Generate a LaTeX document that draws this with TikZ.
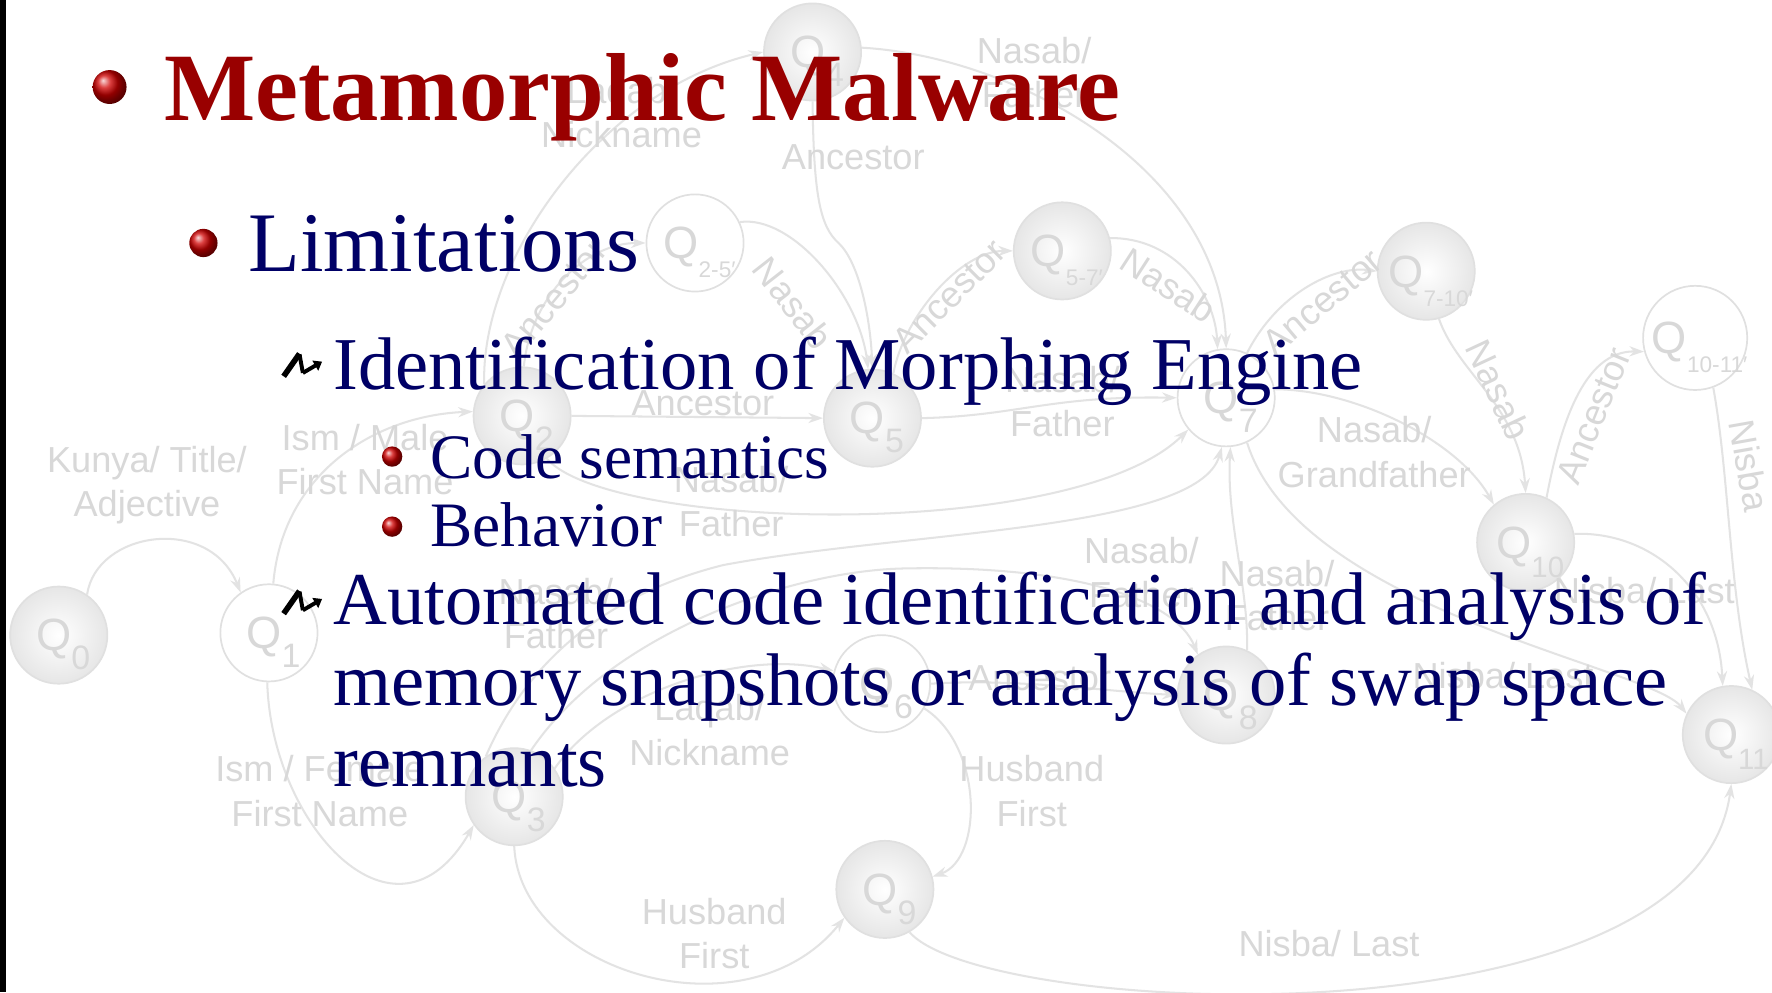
\documentclass[tikz,border=0pt]{standalone}
\usepackage{fontspec}
\setmainfont{Liberation Serif}
\newfontfamily\lsans{Liberation Sans}
\usetikzlibrary{arrows.meta}
\definecolor{titlered}{HTML}{990000}
\definecolor{navy}{HTML}{000066}
\definecolor{ballred}{HTML}{D00000}
\definecolor{edgegray}{HTML}{E3E3E3}
\definecolor{labgray}{HTML}{D8D8D8}
\definecolor{ringgray}{HTML}{E0E0E0}
\definecolor{shadegray}{HTML}{E6E6E6}
% state name with a lowered index, baseline set a little below the node centre
\newcommand\qsub[2]{\raisebox{-14pt}[0pt][0pt]{\hspace{8pt}Q\raisebox{-0.42em}{\fontsize{#1}{#1}\selectfont #2}}}
\begin{document}
\begin{tikzpicture}[x=1pt,y=-1pt,
  state/.style={circle, minimum size=86pt, inner sep=0pt, draw=ringgray, line width=1.5pt,
    text=labgray, font=\lsans\fontsize{40}{40}\selectfont},
  full/.style={state, inner color=white, outer color=shadegray},
  hollow/.style={state, fill=white},
  link/.style={draw=edgegray, line width=1.8pt, -{Stealth[length=13pt,width=9pt]}},
  lab/.style={text=labgray, font=\lsans\fontsize{32}{39}\selectfont, align=center, inner sep=0pt},
  line1/.style={anchor=base west, inner sep=0pt, text=navy, font=\fontsize{75}{75}\selectfont},
  line2/.style={anchor=base west, inner sep=0pt, text=navy, font=\fontsize{66}{66}\selectfont},
  line3/.style={anchor=base west, inner sep=0pt, text=navy, font=\fontsize{56}{56}\selectfont},
  ballbullet/.style={ball color=ballred},
  zigthick/.style={line width=5pt, line cap=butt},
  zigthin/.style={line width=3.5pt, line join=miter},
  zigtip/.style={line width=3.5pt, -{Triangle[length=7pt,width=10pt]}}
]
\useasboundingbox (0,0) rectangle (1568,878);
\fill[white] (0,0) rectangle (1568,878);

% ---------- name automaton (faded background) ----------
\node[full]   (q0)   at (52,562)   {\qsub{30}{0}};
\node[hollow] (q1)   at (238,560)  {\qsub{30}{1}};
\node[full]   (q2)   at (462,368)  {\qsub{30}{2}};
\node[hollow] (q25)  at (615,215)  {\qsub{20}{2-5′}};
\node[full]   (q4)   at (719,46)   {\qsub{30}{4}};
\node[full]   (q5)   at (772,370)  {\qsub{30}{5}};
\node[full]   (q57)  at (940,222)  {\qsub{20}{5-7′}};
\node[hollow] (q7)   at (1085,352) {\qsub{30}{7}};
\node[full]   (q710) at (1262,240) {\qsub{20}{7-10′}};
\node[hollow] (q1011) at (1500,299) {\qsub{20}{10-11′}};
\node[full]   (q10)  at (1350,480) {\qsub{26}{10}};
\node[full]   (q11)  at (1532,650) {\qsub{26}{11}};
\node[hollow] (q6)   at (780,605)  {\qsub{30}{6}};
\node[full]   (q8)   at (1085,615) {\qsub{30}{8}};
\node[full]   (q3)   at (455,705)  {\qsub{30}{3}};
\node[full]   (q9)   at (783,787)  {\qsub{30}{9}};

\draw[link] (q0.55) .. controls (85,470) and (185,455) .. (q1.125);
\draw[link] (q1.85) .. controls (250,420) and (330,368) .. (q2.175);
\draw[link] (q1.268) .. controls (240,730) and (350,850) .. (q3.215);
\draw[link] (q2.140) .. controls (425,230) and (530,80) .. (q4.180);
\draw[link] (q2.88) .. controls (470,260) and (520,215) .. (q25.180);
\draw[link] (q25.25) .. controls (700,190) and (760,260) .. (q5.95);
\draw[link] (q2.east) -- (q5.west);
\draw[link] (q4.270) .. controls (720,170) and (725,200) .. (742,215)
            .. controls (760,232) and (770,280) .. (q5.90);
\draw[link] (q4.5) .. controls (900,50) and (1080,150) .. (q7.90);
\draw[link] (q2.300) .. controls (540,470) and (950,480) .. (q7.220);
\draw[link] (q5.0) .. controls (900,368) and (930,350) .. (q7.180);
\draw[link] (q5.65) .. controls (800,280) and (850,222) .. (q57.180);
\draw[link] (q57.15) .. controls (1040,210) and (1075,260) .. (q7.100);
\draw[link] (q3.125) .. controls (460,600) and (520,530) .. (640,500)
            .. controls (800,470) and (1060,470) .. (q7.265);
\draw[link] (q3.70) .. controls (540,560) and (700,505) .. (800,503)
            .. controls (950,500) and (1040,530) .. (q8.125);
\draw[link] (q3.35) .. controls (540,610) and (660,575) .. (q6.165);
\draw[link] (q8.65) .. controls (1105,520) and (1085,460) .. (q7.275);
\draw[link] (q7.10) .. controls (1200,345) and (1290,390) .. (q10.130);
\draw[link] (q7.65) .. controls (1130,260) and (1180,235) .. (q710.180);
\draw[link] (q710.285) .. controls (1290,330) and (1345,360) .. (q10.90);
\draw[link] (q7.295) .. controls (1150,540) and (1460,590) .. (q11.155);
\draw[link] (q10.65) .. controls (1380,380) and (1400,310) .. (q1011.195);
\draw[link] (q1011.290) .. controls (1530,420) and (1530,520) .. (q11.65);
\draw[link] (q10.10) .. controls (1460,470) and (1520,520) .. (q11.100);
\draw[link] (q6.east) .. controls (900,600) and (980,612) .. (q8.west);
\draw[link] (q6.330) .. controls (870,660) and (870,760) .. (q9.15);
\draw[link] (q3.270) .. controls (460,860) and (660,920) .. (q9.215);
\draw[link] (q9.300) .. controls (870,900) and (1500,930) .. (q11.270);

\node[lab] (l01)  at (130,429)  {Kunya/ Title/\\Adjective};
\node[lab] (l12)  at (323,407)  {Ism / Male\\First Name};
\node[lab] (l13)  at (283,700)  {Ism / Female\\First Name};
\node[lab] (l25)  at (622,357)  {Ancestor};
\node[lab] (l27)  at (647,444)  {Nasab/\\Father};
\node[lab] (l37)  at (492,543)  {Nasab/\\Father};
\node[lab] (l36)  at (628,646)  {Laqab/\\Nickname};
\node[lab] (l39)  at (632,826)  {Husband\\First};
\node[lab] (l69)  at (913,700)  {Husband\\First};
\node[lab] (l911) at (1176,835) {Nisba/ Last};
\node[lab] (l710) at (1216,400) {Nasab/\\Grandfather};
\node[lab] (l38)  at (1010,507) {Nasab/\\Father};
\node[lab] (l87)  at (1130,527) {Nasab/\\Father};
\node[lab] (l68)  at (920,600)  {Ancestor};
\node[lab] (l711) at (1330,598) {Nisba/ Last};
\node[lab] (l1011) at (1455,523) {Nisba/ Last};
\node[lab] (l47)  at (915,64)   {Nasab/\\Father};
\node[lab] (l24)  at (550,100)  {Laqab/\\Nickname};
\node[lab] (l45)  at (755,139)  {Ancestor};
\node[lab] (l57)  at (940,355)  {Nasab/\\Father};
\node[lab, rotate=50]  (r225)   at (490,264)  {Ancestor};
\node[lab, rotate=-52] (r255)   at (702,268)  {Nasab};
\node[lab, rotate=45]  (r557)   at (840,262)  {Ancestor};
\node[lab, rotate=-33] (r577)   at (1034,252) {Nasab};
\node[lab, rotate=40]  (r7710)  at (1170,267) {Ancestor};
\node[lab, rotate=-65] (r71010) at (1326,345) {Nasab};
\node[lab, rotate=68]  (r101011) at (1410,368) {Ancestor};
\node[lab, rotate=-80] (r101111) at (1548,412) {Nisba};

% ---------- slide text ----------
\fill[black] (0,0) rectangle (5,878);

\shade[ballbullet] (97,77) circle[radius=15pt];
\node[anchor=base west, inner sep=0pt, text=titlered,
      font=\fontsize{85.5}{86}\selectfont\bfseries] (title) at (145,107) {Metamorphic Malware};

\shade[ballbullet] (180,215) circle[radius=12.5pt];
\node[line1] (lim) at (219.6,240.5) {Limitations};

\begin{scope}[shift={(0,0)}]
  \draw[zigthick] (251,333) -- (265,313);
  \draw[zigthin] (265,313.5) -- (268,330);
  \draw[zigtip] (268,330) -- (285,320);
\end{scope}
\node[line2] (ident) at (294.8,345) {Identification of Morphing Engine};

\shade[ballbullet] (347,404) circle[radius=9pt];
\node[line3] (code) at (380.5,423) {Code semantics};
\shade[ballbullet] (347,466) circle[radius=9pt];
\node[line3] (behav) at (380.5,484) {Behavior};

\begin{scope}[shift={(0,210)}]
  \draw[zigthick] (251,333) -- (265,313);
  \draw[zigthin] (265,313.5) -- (268,330);
  \draw[zigtip] (268,330) -- (285,320);
\end{scope}
\node[line2] (auto1) at (294.8,553) {Automated code identification and analysis of};
\node[line2] (auto2) at (294.8,624.5) {memory snapshots or analysis of swap space};
\node[line2] (auto3) at (294.8,696) {remnants};
\end{tikzpicture}
\end{document}
